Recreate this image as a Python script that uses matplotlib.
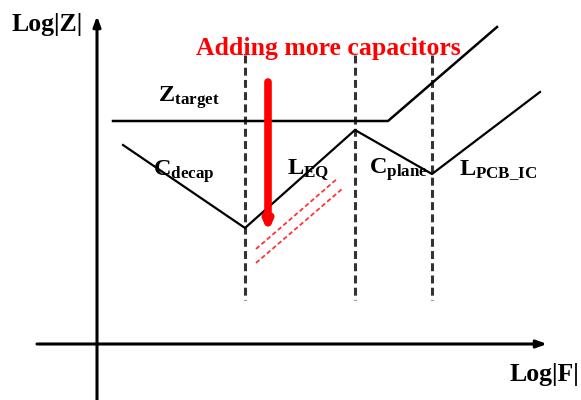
import matplotlib
matplotlib.use("Agg")
import matplotlib.pyplot as plt

plt.rcParams['font.family'] = ['Liberation Serif']
plt.rcParams['mathtext.fontset'] = 'custom'
plt.rcParams['mathtext.rm'] = 'Liberation Serif:bold'
plt.rcParams['mathtext.bf'] = 'Liberation Serif:bold'
plt.rcParams['mathtext.it'] = 'Liberation Serif:bold'

# Schematic coordinates (log F to the right, log Z upward, drawn in canvas units)
target_x = [113, 388, 497]
target_y = [121, 121, 27]

impedance_x = [123, 245, 355, 432, 540]
impedance_y = [145, 228, 130, 174, 92]

corner_x = [245, 355, 432]
corner_top = 55
corner_bottom = 300

# Lower-inductance slopes after adding capacitors
shift_start_x = [256, 256]
shift_start_y = [249, 263]
shift_end_x = [338, 342]
shift_end_y = [178, 189]

labels = [
    (r'$\mathrm{Z}_{\mathrm{target}}$', 158, 98),
    (r'$\mathrm{C}_{\mathrm{decap}}$', 153, 172),
    (r'$\mathrm{L}_{\mathrm{EQ}}$', 287, 170),
    (r'$\mathrm{C}_{\mathrm{plane}}$', 369, 170),
    (r'$\mathrm{L}_{\mathrm{PCB\_IC}}$', 459, 170),
]

fig = plt.figure(figsize=(5.81, 4.0), dpi=100)
ax = fig.add_axes([0, 0, 1, 1])
ax.set_xlim(0, 581)
ax.set_ylim(400, 0)
ax.axis('off')

# Axes with arrowheads
ax.annotate('', xy=(97, 16), xytext=(97, 400),
            arrowprops=dict(arrowstyle='-|>,head_length=0.6,head_width=0.22',
                            color='black', lw=2.2, shrinkA=0, shrinkB=0))
ax.annotate('', xy=(547, 344), xytext=(37, 344),
            arrowprops=dict(arrowstyle='-|>,head_length=0.6,head_width=0.22',
                            color='black', lw=2.2, shrinkA=0, shrinkB=0))
ax.text(11, 24, 'Log|Z|', fontsize=18.5, fontweight='bold', ha='left', va='center')
ax.text(509, 374, 'Log|F|', fontsize=18.5, fontweight='bold', ha='left', va='center')

# Corner-frequency markers
for x in corner_x:
    ax.plot([x, x], [corner_top, corner_bottom], color='#333333', lw=2.2,
            linestyle=(0, (2.6, 1.4)))

ax.plot(target_x, target_y, color='black', lw=1.8)
ax.plot(impedance_x, impedance_y, color='black', lw=1.6)

for x0, y0, x1, y1 in zip(shift_start_x, shift_start_y, shift_end_x, shift_end_y):
    ax.plot([x0, x1], [y0, y1], color='#ff3333', lw=1.3, linestyle=(0, (2.5, 1.5)))

# Red arrow: adding more capacitors
ax.annotate('', xy=(268, 232), xytext=(268, 82),
            arrowprops=dict(arrowstyle='-|>,head_length=0.45,head_width=0.2',
                            color='#ff0000', lw=5.5, shrinkA=0, shrinkB=0))
ax.text(328, 48, 'Adding more capacitors', color='#ff0000', fontsize=18.5,
        fontweight='bold', ha='center', va='center')

for txt, x, y in labels:
    ax.text(x, y, txt, fontsize=17.5, ha='left', va='center')

fig.savefig('out.png', dpi=100)
